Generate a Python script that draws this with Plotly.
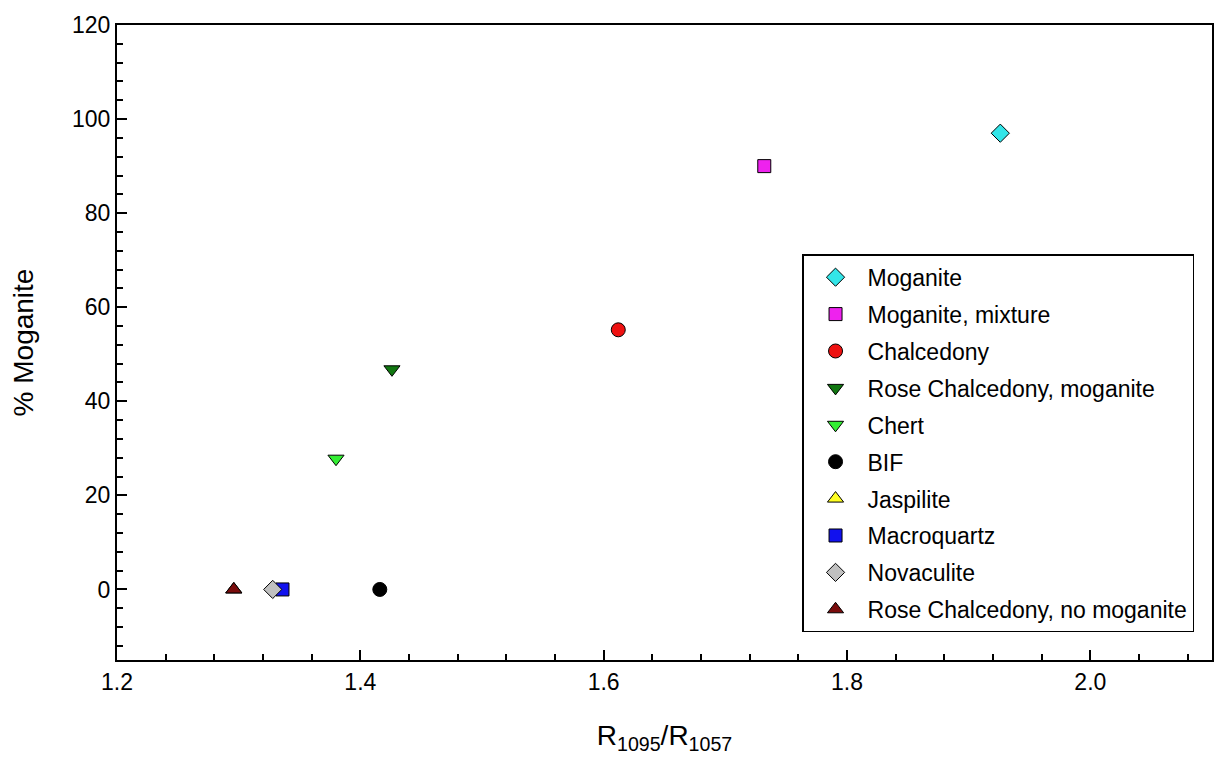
import plotly.graph_objects as go

names = ["Moganite", "Moganite, mixture", "Chalcedony", "Rose Chalcedony, moganite",
         "Chert", "BIF", "Jaspilite", "Macroquartz", "Novaculite",
         "Rose Chalcedony, no moganite"]
x_ratio = [1.926, 1.732, 1.612, 1.426, 1.380, 1.416, 1.296, 1.336, 1.328, 1.296]
y_mog = [97, 90, 55.2, 46.8, 27.8, 0, 0, 0, 0, 0]
colors = ["#33e5e8", "#ee22ee", "#ee1111", "#117711", "#33ee33", "#000000",
          "#ffff22", "#1111ee", "#c0c0c0", "#7a0c0c"]
symbols = ["diamond", "square", "circle", "triangle-down", "triangle-down", "circle",
           "triangle-up", "square", "diamond", "triangle-up"]
sizes = [14, 13, 14, 14, 14, 14, 14, 13, 14, 14]

fig = go.Figure()
for i, n in enumerate(names):
    fig.add_trace(go.Scatter(
        x=[x_ratio[i]], y=[y_mog[i]], mode="markers", name=n,
        legendgroup=n,
        marker=dict(symbol=symbols[i], color=colors[i], size=sizes[i],
                    line=dict(color="black", width=1)),
    ))

font_family = "Arial, Liberation Sans, sans-serif"
fig.update_layout(
    width=1225, height=783,
    margin=dict(l=117, r=13, t=25, b=123),
    paper_bgcolor="white", plot_bgcolor="white",
    font=dict(family=font_family, color="black", size=23),
    showlegend=True,
    legend=dict(
        x=0.6256, y=0.639, xanchor="left", yanchor="top",
        bordercolor="black", borderwidth=1.5, bgcolor="white",
        font=dict(size=23, family=font_family, color="black"),
        tracegroupgap=4, itemwidth=54,
    ),
    xaxis=dict(
        range=[1.2, 2.1], tick0=1.2, dtick=0.2, tickformat=".1f",
        ticks="inside", ticklen=10, tickwidth=1.5, tickcolor="black",
        showline=True, linecolor="black", linewidth=2, mirror=True,
        showgrid=False, zeroline=False,
        minor=dict(dtick=0.04, tick0=1.2, ticks="inside", ticklen=6,
                   tickwidth=1.5, tickcolor="black", showgrid=False),
        title=dict(text="R<sub>1095</sub>/R<sub>1057</sub>", font=dict(size=28), standoff=32),
        tickfont=dict(size=23),
    ),
    yaxis=dict(
        range=[-15, 120], tick0=0, dtick=20,
        ticks="inside", ticklen=10, tickwidth=1.5, tickcolor="black",
        showline=True, linecolor="black", linewidth=2, mirror=True,
        showgrid=False, zeroline=False,
        minor=dict(dtick=4, tick0=0, ticks="inside", ticklen=6,
                   tickwidth=1.5, tickcolor="black", showgrid=False),
        title=dict(text="% Moganite", font=dict(size=28), standoff=30),
        tickfont=dict(size=23),
    ),
)

fig.write_html("out.html")
